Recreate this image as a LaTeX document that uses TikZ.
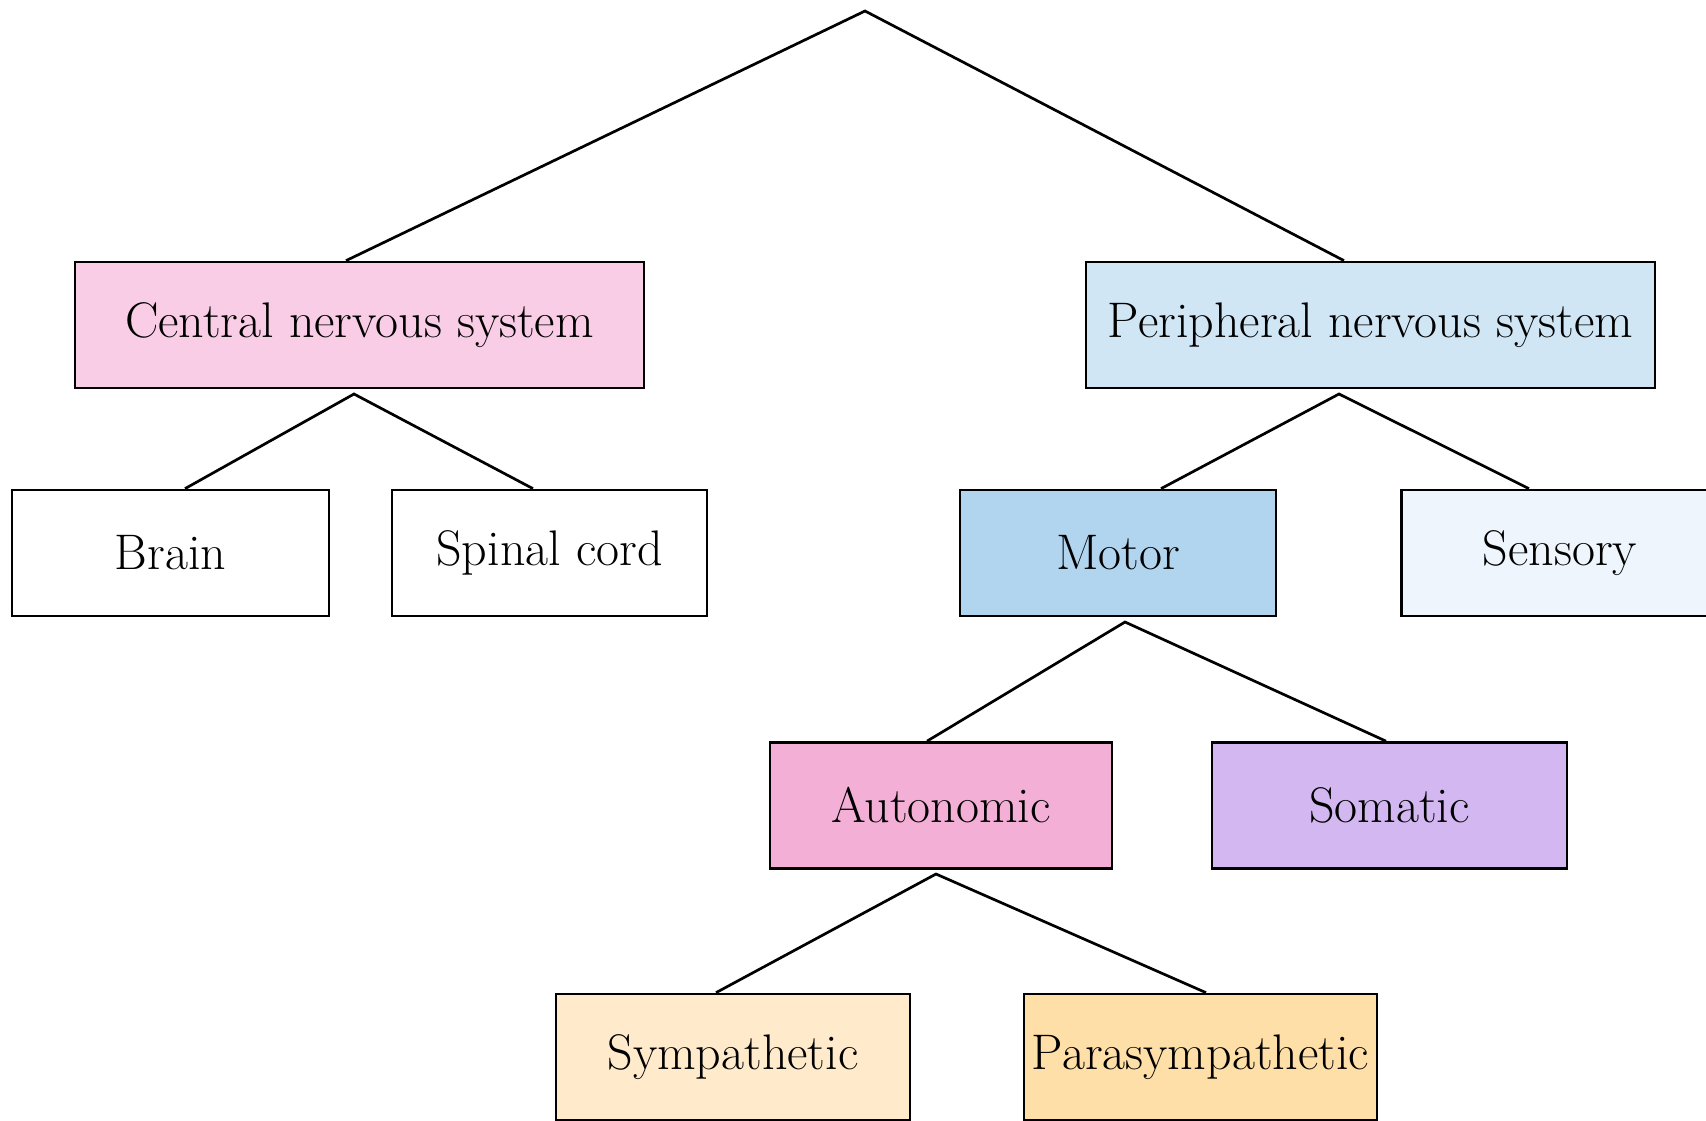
\documentclass[tikz,border=0pt]{standalone}
\usetikzlibrary{calc}
\definecolor{cnscol}{HTML}{F9CDE5}
\definecolor{pnscol}{HTML}{D0E6F5}
\definecolor{motorcol}{HTML}{B1D5EF}
\definecolor{sensorycol}{HTML}{EEF5FC}
\definecolor{autocol}{HTML}{F4AFD7}
\definecolor{somacol}{HTML}{D2B7F1}
\definecolor{sympcol}{HTML}{FFEBCB}
\definecolor{paracol}{HTML}{FFDFA8}
\begin{document}
\begin{tikzpicture}[x=0.5pt,y=-0.5pt,
  box/.style={draw, line width=1.35pt, inner sep=0pt, minimum height=63pt,
              font=\fontsize{25}{30}\selectfont},
  link/.style={line width=1.35pt}]
\useasboundingbox (0,0) rectangle (1706,1120);
\clip (0,0) rectangle (1706,1120);
\node[box, fill=cnscol, minimum width=284.5pt] (cns) at (359.5,325) {Central nervous system};
\node[box, fill=pnscol, minimum width=284.5pt] (pns) at (1370.5,325) {Peripheral nervous system};
\node[box, fill=white, minimum width=158.5pt] (brain) at (170.5,553) {Brain};
\node[box, fill=white, minimum width=157.5pt] (spinal) at (549.5,553) {Spinal cord};
\node[box, fill=motorcol, minimum width=158pt] (motor) at (1118,553) {Motor};
\node[box, fill=sensorycol, minimum width=158.5pt] (sensory) at (1560,553) {Sensory};
\node[box, fill=autocol, minimum width=171pt] (auto) at (941,805.5) {Autonomic};
\node[box, fill=somacol, minimum width=177.5pt] (soma) at (1389.5,805.5) {Somatic};
\node[box, fill=sympcol, minimum width=177pt] (symp) at (733,1057) {Sympathetic};
\node[box, fill=paracol, minimum width=176.5pt] (para) at (1200.5,1057) {Parasympathetic};
\coordinate (root) at (865,11);
\coordinate (cnsb) at (354,394);
\coordinate (pnsb) at (1339,394);
\coordinate (motorb) at (1125,622);
\coordinate (autob) at (936,874);
\draw[link] ([xshift=-6.75pt]cns.north) -- (root) -- ([xshift=-13.25pt]pns.north);
\draw[link] ([xshift=7.25pt]brain.north) -- (cnsb) -- ([xshift=-8.25pt]spinal.north);
\draw[link] ([xshift=21.5pt]motor.north) -- (pnsb) -- ([xshift=-15.5pt]sensory.north);
\draw[link] ([xshift=-7pt]auto.north) -- (motorb) -- ([xshift=-1.75pt]soma.north);
\draw[link] ([xshift=-8.5pt]symp.north) -- (autob) -- ([xshift=2.75pt]para.north);
\end{tikzpicture}
\end{document}
